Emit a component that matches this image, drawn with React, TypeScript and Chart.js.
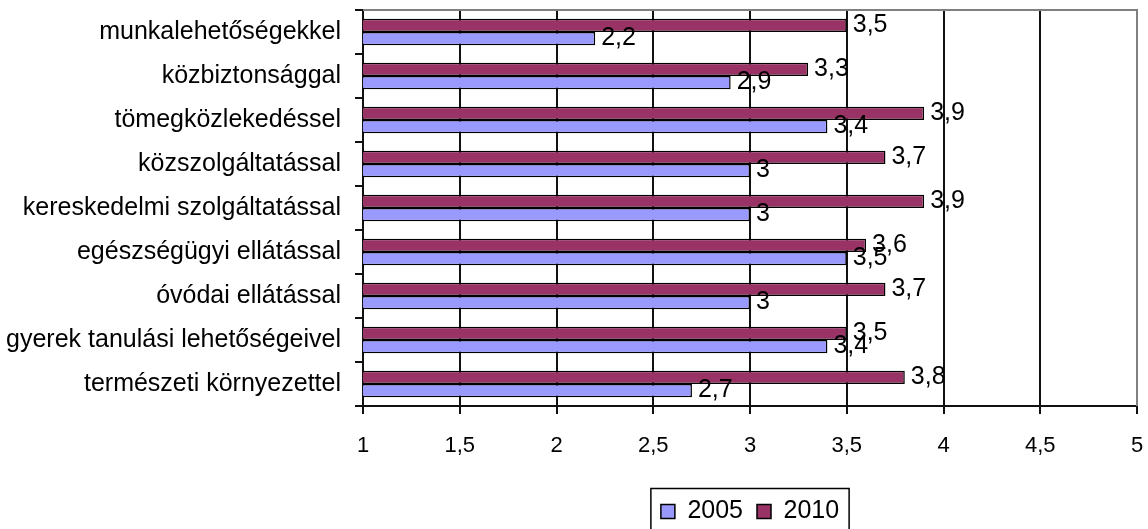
import React, { useEffect, useRef } from "react";
import { Chart, registerables } from "chart.js";

Chart.register(...registerables);

const categories = [
  "munkalehetőségekkel",
  "közbiztonsággal",
  "tömegközlekedéssel",
  "közszolgáltatással",
  "kereskedelmi szolgáltatással",
  "egészségügyi ellátással",
  "óvódai ellátással",
  "gyerek tanulási lehetőségeivel",
  "természeti környezettel",
];
const values2005 = [2.2, 2.9, 3.4, 3, 3, 3.5, 3, 3.4, 2.7];
const values2010 = [3.5, 3.3, 3.9, 3.7, 3.9, 3.6, 3.7, 3.5, 3.8];
const seriesNames = ["2005", "2010"];
const xMin = 1;
const xMax = 5;
const xStep = 0.5;

const FONT = "'Liberation Sans', Arial, sans-serif";

const fmt = (v: number) => String(v).replace(".", ",");

const labelsPlugin = {
  id: "barLabels",
  afterDatasetsDraw(chart: any) {
    const ctx = chart.ctx;
    ctx.save();
    ctx.font = `25px ${FONT}`;
    ctx.fillStyle = "#000";
    ctx.textAlign = "left";
    ctx.textBaseline = "middle";
    chart.data.datasets.forEach((ds: any, i: number) => {
      const meta = chart.getDatasetMeta(i);
      meta.data.forEach((el: any, j: number) => {
        ctx.fillText(fmt(ds.data[j]), el.x + 6, el.y);
      });
    });
    ctx.restore();
  },
};

const framePlugin = {
  id: "frame",
  afterDraw(chart: any) {
    const ctx = chart.ctx;
    const a = chart.chartArea;
    ctx.save();
    ctx.strokeStyle = "#808080";
    ctx.lineWidth = 2;
    ctx.beginPath();
    ctx.moveTo(a.left, a.top);
    ctx.lineTo(a.right, a.top);
    ctx.lineTo(a.right, a.bottom);
    ctx.stroke();
    const lg = chart.legend;
    if (lg && lg.legendHitBoxes && lg.legendHitBoxes.length) {
      const boxes = lg.legendHitBoxes;
      let l = Infinity, r = -Infinity, t = Infinity, h = 0;
      boxes.forEach((b: any) => {
        l = Math.min(l, b.left);
        r = Math.max(r, b.left + b.width);
        t = Math.min(t, b.top);
        h = Math.max(h, b.height);
      });
      const top = t + h / 2 - 23;
      ctx.strokeStyle = "#000";
      ctx.lineWidth = 1.5;
      ctx.strokeRect(l - 10, top, r - l + 20, chart.height - top + 20);
    }
    ctx.restore();
  },
};

export default function App() {
  const ref = useRef<HTMLCanvasElement | null>(null);
  useEffect(() => {
    document.body.style.margin = "0";
    if (!ref.current) return;
    const chart = new Chart(ref.current, {
      type: "bar",
      data: {
        labels: categories,
        datasets: [
          {
            label: seriesNames[1],
            data: values2010,
            backgroundColor: "#993366",
            borderColor: "#000",
            borderWidth: 1.5,
            borderSkipped: false,
            categoryPercentage: 0.6,
            barPercentage: 1,
          },
          {
            label: seriesNames[0],
            data: values2005,
            backgroundColor: "#9999FF",
            borderColor: "#000",
            borderWidth: 1.5,
            borderSkipped: false,
            categoryPercentage: 0.6,
            barPercentage: 1,
          },
        ],
      },
      options: {
        indexAxis: "y",
        animation: false,
        responsive: false,
        maintainAspectRatio: false,
        layout: { padding: { top: 10, right: 11, left: 0, bottom: -5 } },
        scales: {
          x: {
            type: "linear",
            min: xMin,
            max: xMax,
            ticks: {
              stepSize: xStep,
              callback: (v: any) => fmt(Number(v)),
              color: "#000",
              font: { family: FONT, size: 22 },
              padding: 19,
            },
            grid: {
              color: (c: any) => (c.tick && c.tick.value === xMax ? "#808080" : "#111"),
              lineWidth: 2,
              tickLength: 8,
              tickColor: "#111",
            },
            border: { color: "#111", width: 2 },
            afterFit: (s: any) => {
              s.height = 79;
              s.paddingLeft = 0;
              s.paddingRight = 0;
            },
          },
          y: {
            ticks: {
              color: "#000",
              font: { family: FONT, size: 25 },
              padding: 14,
            },
            grid: {
              drawOnChartArea: false,
              tickLength: 8,
              color: "#111",
              lineWidth: 2,
            },
            border: { color: "#111", width: 2 },
            afterFit: (s: any) => {
              s.width = 363;
              s.paddingTop = 0;
              s.paddingBottom = 0;
            },
          },
        },
        plugins: {
          legend: {
            position: "bottom",
            fullSize: false,
            labels: {
              sort: (a: any, b: any) => b.datasetIndex - a.datasetIndex,
              boxWidth: 14,
              boxHeight: 14,
              color: "#000",
              font: { family: FONT, size: 25 },
              padding: 14,
            },
          },
          tooltip: { enabled: false },
        },
      },
      plugins: [labelsPlugin, framePlugin],
    } as any);
    return () => chart.destroy();
  }, []);
  return (
    <div style={{ position: "absolute", left: 0, top: 0, width: 1148, height: 529 }}>
      <canvas ref={ref} width={1148} height={529} style={{ width: 1148, height: 529 }} />
    </div>
  );
}
